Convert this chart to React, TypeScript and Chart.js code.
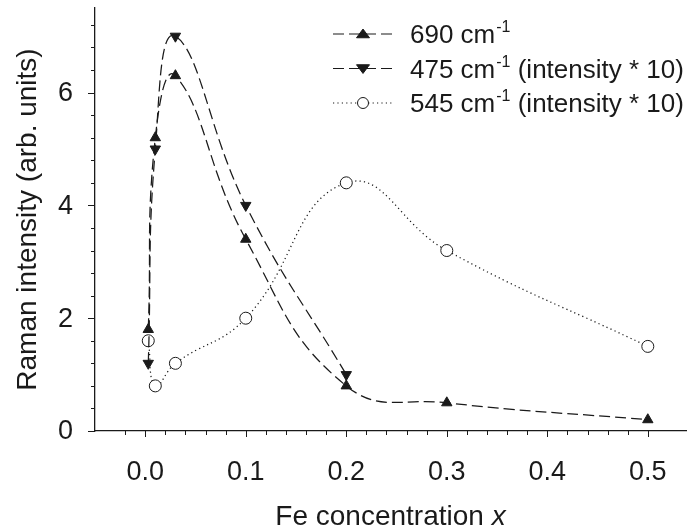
import React, { useEffect, useRef } from 'react';
import { Chart, registerables } from 'chart.js';

Chart.register(...registerables);

// Fe concentration x for each series, and Raman intensity values
const x690 = [0.003, 0.01, 0.03, 0.1, 0.2, 0.3, 0.5];
const y690 = [1.8, 5.2, 6.3, 3.4, 0.8, 0.5, 0.2];
const x475 = [0.003, 0.01, 0.03, 0.1, 0.2];
const y475 = [1.2, 5.0, 7.0, 4.0, 1.0];
const x545 = [0.003, 0.01, 0.03, 0.1, 0.2, 0.3, 0.5];
const y545 = [1.6, 0.8, 1.2, 2.0, 4.4, 3.2, 1.5];

const seriesNames = ['690 cm', '475 cm', '545 cm'];
const seriesSup = ['-1', '-1', '-1'];
const seriesTail = ['', ' (intensity * 10)', ' (intensity * 10)'];

const xTickLabels = ['0.0', '0.1', '0.2', '0.3', '0.4', '0.5'];
const yTickLabels = ['0', '2', '4', '6'];

const xAxisTitle = 'Fe concentration ';
const xAxisTitleItalic = 'x';
const yAxisTitle = 'Raman intensity (arb. units)';

const FONT = '"Liberation Sans", Arial, Helvetica, sans-serif';
const INK = '#1a1a1a';

const toPts = (xs: number[], ys: number[]) => xs.map((x, i) => ({ x, y: ys[i] }));

const dashLong = [11, 5];
const dots = [1.2, 3.2];

const styles = [
  { dash: dashLong, point: 'triangle', rot: 0, fill: INK },
  { dash: dashLong, point: 'triangle', rot: 180, fill: INK },
  { dash: dots, point: 'circle', rot: 0, fill: '#ffffff' },
];

function drawMarker(ctx: CanvasRenderingContext2D, kind: number, cx: number, cy: number, r: number) {
  ctx.save();
  ctx.setLineDash([]);
  ctx.lineWidth = 1;
  ctx.strokeStyle = INK;
  ctx.fillStyle = styles[kind].fill;
  ctx.beginPath();
  if (kind === 2) {
    ctx.arc(cx, cy, r, 0, Math.PI * 2);
  } else {
    const s = kind === 0 ? 1 : -1;
    const h = r * 1.5;
    const half = r * 1.3;
    ctx.moveTo(cx, cy - s * h * 0.66);
    ctx.lineTo(cx + half, cy + s * h * 0.5);
    ctx.lineTo(cx - half, cy + s * h * 0.5);
    ctx.closePath();
  }
  ctx.fill();
  ctx.stroke();
  ctx.restore();
}

const near = (a: number, b: number) => Math.abs(a - b) < 1e-6;

const decorPlugin = {
  id: 'decor',
  afterDraw(chart: any) {
    const ctx: CanvasRenderingContext2D = chart.ctx;
    const xs = chart.scales.x;
    const ys = chart.scales.y;
    const area = chart.chartArea;
    ctx.save();
    ctx.strokeStyle = INK;
    ctx.fillStyle = INK;
    ctx.lineWidth = 1;
    ctx.setLineDash([]);

    // x ticks (minor every 0.02, major every 0.1) and labels
    ctx.font = `27px ${FONT}`;
    ctx.textAlign = 'center';
    ctx.textBaseline = 'middle';
    xs.ticks.forEach((t: any) => {
      const v = t.value;
      const k = v / 0.02;
      if (!near(k, Math.round(k))) return;
      const px = Math.round(xs.getPixelForValue(v)) + 0.5;
      if (px < area.left + 2 || px > area.right) return;
      const major = Math.round(k) % 5 === 0;
      ctx.beginPath();
      ctx.moveTo(px, area.bottom);
      ctx.lineTo(px, area.bottom + (major ? 6 : 4));
      ctx.stroke();
      if (major) {
        const lbl = xTickLabels.find((s) => near(Number(s), v));
        if (lbl) ctx.fillText(lbl, xs.getPixelForValue(v), area.bottom + 42);
      }
    });

    // y ticks (minor every 0.4, major every 2) and labels
    ctx.textAlign = 'right';
    ys.ticks.forEach((t: any) => {
      const v = t.value;
      const k = v / 0.4;
      if (!near(k, Math.round(k))) return;
      const py = Math.round(ys.getPixelForValue(v)) + 0.5;
      const major = Math.round(k) % 5 === 0;
      ctx.beginPath();
      ctx.moveTo(area.left, py);
      ctx.lineTo(area.left - (major ? 7 : 4), py);
      ctx.stroke();
      if (major) {
        const lbl = yTickLabels.find((s) => near(Number(s), v));
        if (lbl) ctx.fillText(lbl, area.left - 22, ys.getPixelForValue(v) + 1);
      }
    });

    // y axis title
    ctx.save();
    ctx.translate(36, (area.top + area.bottom) / 2);
    ctx.rotate(-Math.PI / 2);
    ctx.font = `28px ${FONT}`;
    ctx.textAlign = 'center';
    ctx.textBaseline = 'alphabetic';
    ctx.fillText(yAxisTitle, 0, 0);
    ctx.restore();

    // x axis title with italic x
    ctx.textBaseline = 'alphabetic';
    ctx.textAlign = 'left';
    ctx.font = `28px ${FONT}`;
    const w1 = ctx.measureText(xAxisTitle).width;
    ctx.font = `italic 28px ${FONT}`;
    const w2 = ctx.measureText(xAxisTitleItalic).width;
    const cx = (area.left + area.right) / 2;
    const ty = 525;
    const sx = cx - (w1 + w2) / 2;
    ctx.font = `28px ${FONT}`;
    ctx.fillText(xAxisTitle, sx, ty);
    ctx.font = `italic 28px ${FONT}`;
    ctx.fillText(xAxisTitleItalic, sx + w1, ty);

    // legend
    const lx0 = 333;
    const lx1 = 393;
    const tx = 410;
    for (let i = 0; i < 3; i++) {
      const ly = area.top + 26 + i * 34.5;
      ctx.save();
      ctx.lineWidth = 1.2;
      ctx.setLineDash(styles[i].dash);
      ctx.beginPath();
      ctx.moveTo(lx0, ly);
      ctx.lineTo(lx1, ly);
      ctx.stroke();
      ctx.restore();
      drawMarker(ctx, i, (lx0 + lx1) / 2, ly, i === 2 ? 5.5 : 5);
      ctx.fillStyle = INK;
      ctx.textBaseline = 'alphabetic';
      ctx.textAlign = 'left';
      const base = ly + 9;
      ctx.font = `26px ${FONT}`;
      ctx.fillText(seriesNames[i], tx, base);
      let x = tx + ctx.measureText(seriesNames[i]).width;
      ctx.font = `16px ${FONT}`;
      ctx.fillText(seriesSup[i], x + 1, base - 11);
      x += ctx.measureText(seriesSup[i]).width + 1;
      ctx.font = `26px ${FONT}`;
      ctx.fillText(seriesTail[i], x, base);
    }
    ctx.restore();
  },
};

export default function App() {
  const ref = useRef<HTMLCanvasElement | null>(null);
  useEffect(() => {
    if (!ref.current) return;
    const mk = (i: number, xs: number[], ys: number[]) => ({
      label: seriesNames[i] + seriesTail[i],
      data: toPts(xs, ys),
      borderColor: INK,
      borderWidth: 1.25,
      borderDash: styles[i].dash,
      tension: 0.45,
      fill: false,
      pointStyle: styles[i].point,
      rotation: styles[i].rot,
      pointRadius: 6,
      pointBackgroundColor: styles[i].fill,
      pointBorderColor: INK,
      pointBorderWidth: 1,
    });
    const chart = new Chart(ref.current, {
      type: 'line',
      data: {
        datasets: [mk(0, x690, y690), mk(1, x475, y475), mk(2, x545, y545)],
      },
      options: {
        animation: false,
        responsive: true,
        maintainAspectRatio: false,
        layout: { autoPadding: false, padding: { top: 8, right: 7, left: 0, bottom: 0 } },
        plugins: { legend: { display: false }, tooltip: { enabled: false } },
        scales: {
          x: {
            type: 'linear',
            min: -0.05,
            max: 0.538,
            grid: { display: false, drawTicks: false },
            border: { display: true, color: INK, width: 1.3 },
            ticks: { stepSize: 0.02, autoSkip: false, display: false },
            afterFit: (s: any) => { s.height = 100; },
          },
          y: {
            type: 'linear',
            min: 0,
            max: 7.5,
            grid: { display: false, drawTicks: false },
            border: { display: true, color: INK, width: 1.3 },
            ticks: { stepSize: 0.4, autoSkip: false, display: false },
            afterFit: (s: any) => { s.width = 95; },
          },
        },
      },
      plugins: [decorPlugin],
    });
    return () => chart.destroy();
  }, []);
  return (
    <div style={{ position: 'absolute', left: 0, top: 0, width: 693, height: 531, background: '#fff' }}>
      <canvas ref={ref} />
    </div>
  );
}
